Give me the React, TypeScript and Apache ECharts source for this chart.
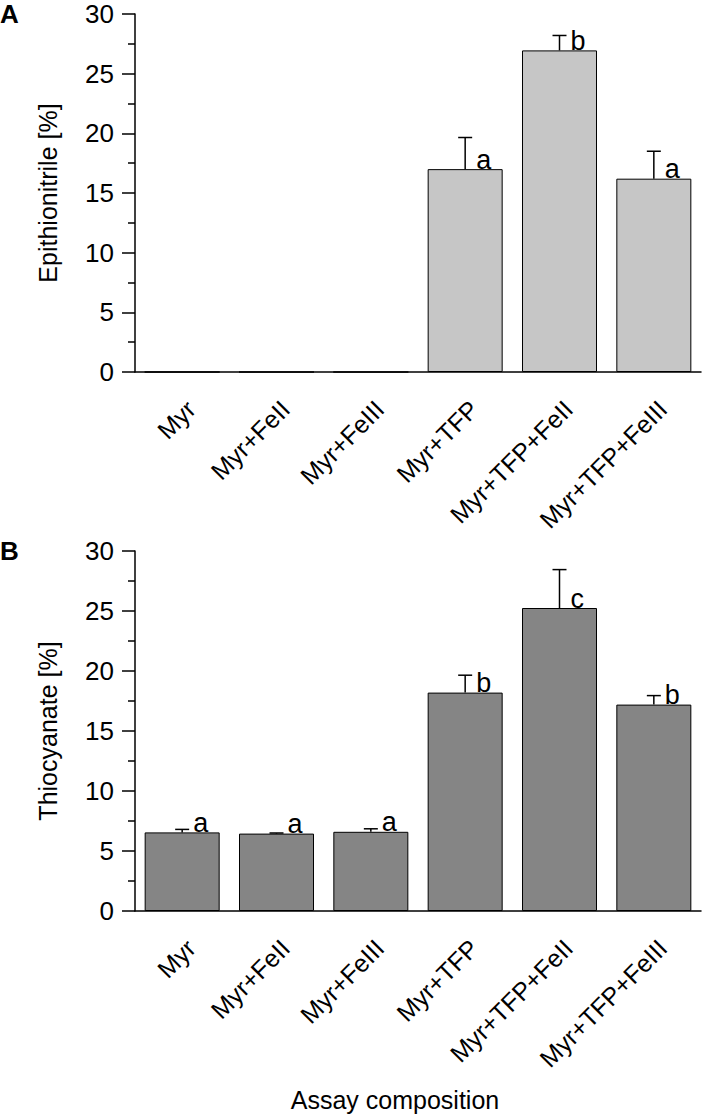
import React, { useEffect, useRef } from "react";
import * as echarts from "echarts";

const categories = ["Myr", "Myr+FeII", "Myr+FeIII", "Myr+TFP", "Myr+TFP+FeII", "Myr+TFP+FeIII"];
const epithionitrile = [0, 0, 0, 17.0, 26.95, 16.2];
const epithionitrileErr = [0, 0, 0, 2.65, 1.25, 2.3];
const epithionitrileLetters = ["", "", "", "a", "b", "a"];
const thiocyanate = [6.55, 6.45, 6.6, 18.2, 25.25, 17.2];
const thiocyanateErr = [0.25, 0.05, 0.25, 1.45, 3.2, 0.75];
const thiocyanateLetters = ["a", "a", "a", "b", "c", "b"];
const yTicks = { min: 0, max: 30, interval: 5 };

const FONT = "'Liberation Sans', Arial, Helvetica, sans-serif";

function errorSeries(values: number[], errs: number[], letters: string[], idx: number) {
  return {
    type: "custom",
    xAxisIndex: idx,
    yAxisIndex: idx,
    z: 5,
    data: values.map((v, i) => [i, v, errs[i]]),
    renderItem: (params: any, api: any) => {
      const i = api.value(0);
      const v = api.value(1);
      const e = api.value(2);
      const letter = letters[params.dataIndex];
      if (!letter && !e) return null;
      const top = api.coord([i, v]);
      const hi = api.coord([i, v + e]);
      const children: any[] = [];
      if (e > 0) {
        children.push({
          type: "line",
          shape: { x1: top[0], y1: top[1], x2: hi[0], y2: hi[1] },
          style: { stroke: "#000", lineWidth: 1.5 },
        });
        children.push({
          type: "line",
          shape: { x1: hi[0] - 7, y1: hi[1], x2: hi[0] + 7, y2: hi[1] },
          style: { stroke: "#000", lineWidth: 1.5 },
        });
      }
      if (letter) {
        children.push({
          type: "text",
          x: top[0] + 11,
          y: top[1] + 4,
          style: {
            text: letter,
            fontSize: 27,
            fontFamily: FONT,
            fill: "#000",
            align: "left",
            verticalAlign: "bottom",
          },
        });
      }
      return { type: "group", children };
    },
  };
}

function xAxisCfg(gridIndex: number) {
  return {
    type: "category",
    gridIndex,
    data: categories,
    axisLine: { lineStyle: { color: "#000", width: 1.5 } },
    axisTick: { alignWithLabel: true, length: 13, lineStyle: { color: "#000", width: 1.5 } },
    axisLabel: {
      rotate: 45,
      margin: 24,
      verticalAlign: "top",
      color: "#000",
      fontSize: 25,
      fontFamily: FONT,
      interval: 0,
    },
    splitLine: { show: false },
  };
}

function yAxisCfg(gridIndex: number, name: string) {
  return {
    type: "value",
    gridIndex,
    min: yTicks.min,
    max: yTicks.max,
    interval: yTicks.interval,
    name,
    nameLocation: "middle",
    nameGap: 75,
    nameTextStyle: { color: "#000", fontSize: 25, fontFamily: FONT },
    axisLine: { show: true, lineStyle: { color: "#000", width: 1.5 } },
    axisTick: { show: true, length: 13, lineStyle: { color: "#000", width: 1.5 } },
    minorTick: { show: true, splitNumber: 2, length: 7, lineStyle: { color: "#000", width: 1.5 } },
    axisLabel: { color: "#000", fontSize: 26, lineHeight: 22, fontFamily: FONT, margin: 21 },
    splitLine: { show: false },
    minorSplitLine: { show: false },
  };
}

export default function App() {
  const ref = useRef<HTMLDivElement>(null);
  useEffect(() => {
    document.body.style.margin = "0";
    const chart = echarts.init(ref.current!, undefined, { renderer: "svg" });
    chart.setOption({
      animation: false,
      backgroundColor: "#fff",
      grid: [
        { left: 135, top: 14, width: 566, height: 358 },
        { left: 135, top: 551, width: 566, height: 360 },
      ],
      xAxis: [xAxisCfg(0), xAxisCfg(1)],
      yAxis: [yAxisCfg(0, "Epithionitrile [%]"), yAxisCfg(1, "Thiocyanate [%]")],
      graphic: [
        { type: "text", left: 0, top: 1, style: { text: "A", fontSize: 26, lineHeight: 26, fontWeight: "bold", fontFamily: FONT, fill: "#000" } },
        { type: "text", left: 0, top: 538, style: { text: "B", fontSize: 26, lineHeight: 26, fontWeight: "bold", fontFamily: FONT, fill: "#000" } },
        {
          type: "text",
          x: 395,
          y: 1100,
          style: { text: "Assay composition", fontSize: 25, fontFamily: FONT, fill: "#000", align: "center", verticalAlign: "middle" },
        },
      ],
      series: [
        {
          type: "bar",
          xAxisIndex: 0,
          yAxisIndex: 0,
          data: epithionitrile,
          barWidth: 75,
          itemStyle: { color: "#c6c6c6", borderColor: "#000", borderWidth: 1 },
        },
        errorSeries(epithionitrile, epithionitrileErr, epithionitrileLetters, 0),
        {
          type: "bar",
          xAxisIndex: 1,
          yAxisIndex: 1,
          data: thiocyanate,
          barWidth: 75,
          itemStyle: { color: "#858585", borderColor: "#000", borderWidth: 1 },
        },
        errorSeries(thiocyanate, thiocyanateErr, thiocyanateLetters, 1),
      ],
    });
    return () => chart.dispose();
  }, []);
  return <div ref={ref} style={{ width: 703, height: 1115 }} />;
}
